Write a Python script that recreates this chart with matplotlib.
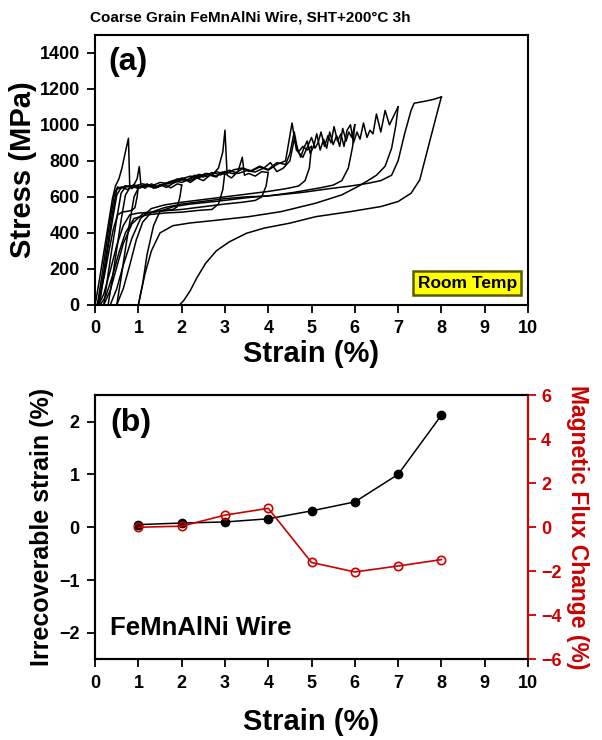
import matplotlib
matplotlib.use('Agg')
import matplotlib.pyplot as plt

plt.rcParams['font.family'] = ['Liberation Sans', 'DejaVu Sans']
plt.rcParams['font.weight'] = 'bold'
plt.rcParams['axes.labelweight'] = 'bold'

# ---- panel (a): stress-strain cycles (strain %, stress MPa) ----
c1_load_x = [0.00, 0.10, 0.20, 0.30, 0.40, 0.47, 0.55, 0.62, 0.70, 0.77, 0.80, 0.85, 0.90, 0.95, 1.00]
c1_load_y = [0, 140, 290, 440, 590, 660, 700, 760, 850, 925, 660, 645, 670, 650, 662]
c1_unload_x = [1.00, 0.97, 0.92, 0.85, 0.75, 0.62, 0.52, 0.42, 0.32, 0.22, 0.12, 0.05]
c1_unload_y = [662, 600, 540, 525, 520, 515, 500, 420, 300, 170, 60, 0]

c2_load_x = [0.05, 0.15, 0.25, 0.35, 0.45, 0.52, 0.6, 0.7, 0.8, 0.9, 0.97, 1.02, 1.06, 1.15, 1.3, 1.45,
             1.6, 1.75, 1.9, 2.0]
c2_load_y = [0, 150, 320, 480, 620, 655, 648, 662, 655, 668, 700, 768, 660, 648, 672, 655,
             668, 650, 672, 665]
c2_unload_x = [2.0, 1.96, 1.9, 1.8, 1.6, 1.3, 1.0, 0.8, 0.65, 0.5, 0.35, 0.2, 0.08]
c2_unload_y = [665, 600, 545, 530, 525, 515, 510, 500, 440, 330, 190, 60, 0]

c3_load_x = [0.08, 0.2, 0.3, 0.4, 0.5, 0.6, 0.75, 0.9, 1.05, 1.2, 1.35, 1.5, 1.65, 1.8, 1.95, 2.05, 2.2,
             2.35, 2.5, 2.65, 2.8, 2.9, 3.0]
c3_load_y = [0, 180, 350, 510, 640, 655, 640, 665, 650, 672, 648, 668, 652, 675, 690, 700, 680,
             705, 690, 720, 710, 735, 740]
c3_unload_x = [3.0, 2.95, 2.85, 2.7, 2.4, 2.0, 1.6, 1.2, 0.9, 0.7, 0.55, 0.4, 0.25, 0.12]
c3_unload_y = [740, 640, 560, 530, 525, 515, 510, 500, 480, 400, 290, 160, 50, 0]

c4_load_x = [0.1, 0.2, 0.3, 0.4, 0.5, 0.6, 0.8, 1.0, 1.2, 1.4, 1.6, 1.8, 2.0, 2.2, 2.4, 2.55, 2.7, 2.85,
             2.95, 3.0, 3.05, 3.15, 3.3, 3.4, 3.45, 3.55, 3.7, 3.85, 4.0]
c4_load_y = [0, 160, 320, 470, 610, 650, 662, 648, 668, 655, 672, 690, 700, 715, 705, 730, 720, 760,
             850, 970, 720, 705, 740, 820, 720, 730, 715, 740, 735]
c4_unload_x = [4.0, 3.95, 3.85, 3.7, 3.4, 3.0, 2.5, 2.0, 1.5, 1.1, 0.85, 0.65, 0.5, 0.35, 0.2]
c4_unload_y = [735, 660, 600, 580, 570, 560, 545, 530, 520, 505, 450, 340, 210, 80, 0]

c5_load_x = [0.2, 0.3, 0.4, 0.5, 0.6, 0.7, 0.9, 1.1, 1.3, 1.5, 1.7, 1.9, 2.1, 2.3, 2.5, 2.7, 2.9, 3.1,
             3.3, 3.5, 3.7, 3.9, 4.05, 4.2, 4.35, 4.5, 4.6, 4.7, 4.8, 4.9, 5.0]
c5_load_y = [0, 170, 330, 480, 620, 655, 660, 672, 660, 680, 672, 700, 690, 720, 710, 735, 722, 748,
             730, 745, 738, 760, 790, 740, 760, 800, 920, 850, 880, 860, 880]
c5_unload_x = [5.0, 4.95, 4.85, 4.7, 4.4, 4.0, 3.5, 3.0, 2.5, 2.0, 1.6, 1.3, 1.05, 0.85, 0.65, 0.5, 0.35]
c5_unload_y = [880, 760, 690, 660, 645, 630, 615, 600, 585, 570, 555, 535, 480, 370, 220, 90, 0]

c6_load_x = [0.3, 0.4, 0.5, 0.6, 0.7, 0.8, 1.0, 1.2, 1.4, 1.6, 1.8, 2.0, 2.2, 2.4, 2.6, 2.8, 3.0, 3.2,
             3.4, 3.6, 3.8, 4.0, 4.2, 4.4, 4.5, 4.6, 4.68, 4.75, 4.82, 4.9, 4.97, 5.05, 5.12, 5.2, 5.28,
             5.35, 5.42, 5.5, 5.58, 5.65, 5.72, 5.8, 5.86, 5.93, 6.0]
c6_load_y = [0, 150, 310, 470, 610, 650, 655, 668, 650, 672, 690, 680, 700, 725, 712, 740, 725, 750,
             760, 745, 770, 752, 790, 780, 840, 960, 860, 820, 870, 910, 840, 880, 950, 860, 920,
             870, 960, 890, 940, 880, 980, 910, 960, 930, 1000]
c6_unload_x = [6.0, 5.95, 5.85, 5.7, 5.5, 5.2, 4.6, 4.0, 3.5, 3.0, 2.5, 2.0, 1.6, 1.3, 1.1, 0.95, 0.8,
               0.65, 0.5]
c6_unload_y = [1000, 880, 760, 690, 665, 650, 625, 605, 600, 590, 575, 560, 540, 515, 460, 360, 220,
               90, 0]

c7_load_x = [0.5, 0.6, 0.7, 0.8, 0.9, 1.0, 1.2, 1.4, 1.6, 1.8, 2.0, 2.2, 2.4, 2.6, 2.8, 3.0, 3.2, 3.4,
             3.6, 3.8, 4.0, 4.2, 4.4, 4.55, 4.65, 4.8, 5.0, 5.08, 5.15, 5.22, 5.3, 5.38, 5.45, 5.52, 5.6,
             5.68, 5.75, 5.82, 5.9, 5.97, 6.05, 6.12, 6.2, 6.28, 6.35, 6.42, 6.5, 6.6, 6.7, 6.8, 6.9, 7.0]
c7_load_y = [0, 150, 310, 460, 600, 650, 660, 650, 670, 680, 705, 690, 718, 730, 715, 740, 728, 755,
             742, 765, 748, 780, 800, 1010, 860, 820, 930, 870, 900, 960, 880, 940, 900, 990, 910,
             950, 880, 970, 1000, 900, 960, 920, 1010, 930, 970, 950, 1060, 960, 1080, 1000, 1050, 1100]
c7_unload_x = [7.0, 6.95, 6.85, 6.7, 6.5, 6.3, 6.1, 5.7, 5.1, 4.3, 3.55, 2.8, 2.2, 1.8, 1.5, 1.3, 1.15,
               1.05, 1.0]
c7_unload_y = [1100, 1000, 870, 770, 720, 690, 661, 611, 565, 518, 490, 470, 455, 440, 400, 300, 170,
               60, 0]

c8_load_x = [1.0, 1.1, 1.2, 1.35, 1.5, 1.8, 2.2, 2.8, 3.5, 4.2, 4.8, 5.4, 5.9, 6.3, 6.6, 6.85, 7.0,
             7.15, 7.3, 7.37, 7.6, 7.8, 8.0]
c8_load_y = [0, 120, 280, 440, 520, 545, 560, 575, 595, 610, 625, 645, 660, 675, 690, 720, 800,
             950, 1080, 1120, 1130, 1140, 1155]
c8_unload_x = [8.0, 7.9, 7.7, 7.5, 7.3, 7.0, 6.6, 5.9, 5.1, 4.5, 3.9, 3.5, 3.1, 2.8, 2.55, 2.35, 2.2,
               2.05, 1.95]
c8_unload_y = [1155, 1065, 880, 694, 620, 574, 546, 518, 490, 454, 426, 398, 350, 300, 230, 150, 80,
               25, 0]

cycles = [
    (c1_load_x, c1_load_y, c1_unload_x, c1_unload_y),
    (c2_load_x, c2_load_y, c2_unload_x, c2_unload_y),
    (c3_load_x, c3_load_y, c3_unload_x, c3_unload_y),
    (c4_load_x, c4_load_y, c4_unload_x, c4_unload_y),
    (c5_load_x, c5_load_y, c5_unload_x, c5_unload_y),
    (c6_load_x, c6_load_y, c6_unload_x, c6_unload_y),
    (c7_load_x, c7_load_y, c7_unload_x, c7_unload_y),
    (c8_load_x, c8_load_y, c8_unload_x, c8_unload_y),
]

# ---- panel (b) ----
max_strain = [1, 2, 3, 4, 5, 6, 7, 8]
irrecoverable = [0.05, 0.08, 0.10, 0.16, 0.31, 0.48, 1.00, 2.12]
flux_change = [0.0, 0.05, 0.55, 0.86, -1.6, -2.03, -1.76, -1.47]

red = '#cc0000'

fig = plt.figure(figsize=(6.02, 7.40), dpi=100)
ax1 = fig.add_axes([0.158, 0.588, 0.719, 0.365])
ax2 = fig.add_axes([0.158, 0.109, 0.719, 0.357])

for lx, ly, ux, uy in cycles:
    ax1.plot(lx, ly, color='black', lw=1.1)
    ax1.plot(ux, uy, color='black', lw=1.1)

ax1.set_xlim(0, 10)
ax1.set_ylim(0, 1500)
ax1.set_xticks(range(0, 11))
ax1.set_yticks(range(0, 1401, 200))
ax1.set_xlabel('Strain (%)', fontsize=21, labelpad=2)
ax1.set_ylabel('Stress (MPa)', fontsize=21, labelpad=2)
ax1.text(0.03, 0.955, '(a)', transform=ax1.transAxes, fontsize=23, fontweight='bold', va='top')
ax1.text(8.6, 120, 'Room Temp', ha='center', va='center', fontsize=12.5, fontweight='bold',
         bbox=dict(facecolor='#ffff00', edgecolor='#5a5a00', lw=1.8, boxstyle='square,pad=0.25'))
ax1.tick_params(direction='out', length=6, width=1.3, labelsize=13, pad=5, top=False, right=False)

ax2.plot(max_strain, irrecoverable, color='black', marker='o', ms=6, lw=1.1)
ax2.set_xlim(0, 10)
ax2.set_ylim(-2.5, 2.5)
ax2.set_xticks(range(0, 11))
ax2.set_yticks([-2, -1, 0, 1, 2])
ax2.set_xlabel('Strain (%)', fontsize=21, labelpad=12)
ax2.set_ylabel('Irrecoverable strain (%)', fontsize=18)
ax2.text(0.035, 0.95, '(b)', transform=ax2.transAxes, fontsize=23, fontweight='bold', va='top')
ax2.text(0.035, 0.12, 'FeMnAlNi Wire', transform=ax2.transAxes, fontsize=18.5, fontweight='bold',
         va='center')
ax2.tick_params(direction='out', length=6, width=1.3, labelsize=13, pad=5)

ax3 = ax2.twinx()
ax3.plot(max_strain, flux_change, color=red, marker='o', ms=6, mfc='none', mec=red, mew=1.2, lw=1.2)
ax3.set_ylim(-6, 6)
ax3.set_yticks(range(-6, 7, 2))
ax3.set_ylabel('Magnetic Flux Change (%)', fontsize=16.5, color=red, rotation=270, labelpad=20)
ax3.tick_params(direction='out', length=6, width=1.3, labelsize=13, colors=red)

for ax in (ax1, ax2, ax3):
    for s in ax.spines.values():
        s.set_linewidth(1.5)
ax3.spines['right'].set_color(red)

fig.text(0.15, 0.976, 'Coarse Grain FeMnAlNi Wire, SHT+200\u00b0C 3h', fontsize=11,
         fontweight='bold', va='center')

fig.savefig('out.png', dpi=100)
